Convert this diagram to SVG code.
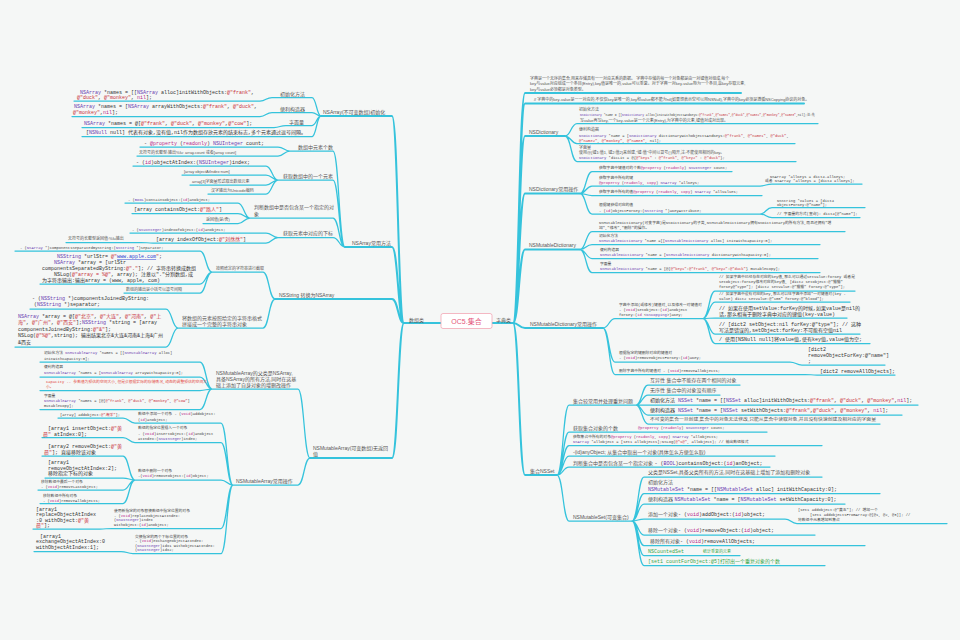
<svg xmlns="http://www.w3.org/2000/svg" width="960" height="640" viewBox="0 0 960 640">
<style>
.e{fill:none;stroke:#35c3dc;stroke-width:1.25;stroke-linecap:round}
.tr{stroke-width:2}
text{font-family:"Liberation Sans","Noto Sans CJK SC",sans-serif;fill:#555}
.l{font-size:5px}
.s{font-size:4px}
.m{font-family:"Liberation Mono","Noto Sans CJK SC",monospace;font-size:5px;fill:#333}
.ms{font-family:"Liberation Mono","Noto Sans CJK SC",monospace;font-size:3.8px;fill:#444}
.xs{font-family:"Liberation Mono","Noto Sans CJK SC",monospace;font-size:3.05px;fill:#444}
.k{fill:#6a3bb0}
.q{fill:#c8323c}
.w{fill:#b52a8c}
.red{fill:#e3493f}
.gr{fill:#3aa84b}
.ctr{font-size:7px;fill:#e4577a}
</style>
<rect width="960" height="640" fill="#f5f7f6"/>
<g id="connectors">
<path class="e tr" d="M441,323 H404 M404,323 C398,323 398,116 392,116 H321 M404,323 C398,323 398,247 392,247 H345 M404,323 C398,323 398,299 392,299 H275 M404,323 C398,323 398,458 392,458 H310"/>
<path class="e" d="M321,116 C316.5,116 316.5,97.5 312,97.5 H272 M321,116 C316.5,116 316.5,112.5 312,112.5 H272 M321,116 C316.5,116 316.5,125.5 312,125.5 H286 M321,116 C316.5,116 316.5,136.5 312,136.5 H82 M272,97.5 C266,97.5 266,101 260,101 H74 M272,112.5 C266,112.5 266,116.5 260,116.5 H72 M286,125.5 C280,125.5 280,127.5 274,127.5 H82"/>
<path class="e" d="M345,247 C339,247 339,151 333,151 H290 M345,247 C339,247 339,180 333,180 H278 M345,247 C339,247 339,218 333,218 H250 M345,247 C339,247 339,237.5 333,237.5 H278 M290,151 C284,151 284,147 278,147 H140 M290,151 C284,151 284,156 278,156 H137 M278,180 C272,180 272,166 266,166 H133 M278,180 C272,180 272,175 266,175 H182 M278,180 C272,180 272,185 266,185 H190 M278,180 C272,180 272,194 266,194 H208 M250,218 C244,218 244,203 238,203 H125 M250,218 C244,218 244,213.5 238,213.5 H132 M250,218 C244,218 244,223.5 238,223.5 H203 M278,237.5 C272,237.5 272,233 266,233 H130 M278,237.5 C272,237.5 272,243 266,243 H153 M153,243 C147,243 147,242.5 141,242.5 H66"/>
<path class="e" d="M275,299 C269,299 269,272 263,272 H212 M275,299 C269,299 269,328 263,328 H178 M212,272 C206,272 206,251 200,251 H15 M212,272 C206,272 206,284 200,284 H40 M212,272 C206,272 206,293 200,293 H124 M178,328 C172,328 172,309 166,309 H30 M178,328 C172,328 172,347 166,347 H15"/>
<path class="e" d="M310,458 C304,458 304,389 298,389 H212 M310,458 C304,458 304,485 298,485 H233 M212,389 C206,389 206,362 200,362 H40 M212,389 C206,389 206,377 200,377 H40 M212,389 C206,389 206,390.5 200,390.5 H40 M212,389 C206,389 206,409.5 200,409.5 H40 M233,485 C227,485 227,423 221,423 H135 M233,485 C227,485 227,442.5 221,442.5 H135 M233,485 C227,485 227,480 221,480 H135 M233,485 C227,485 227,528.5 221,528.5 H112 M233,485 C227,485 227,553.5 221,553.5 H133 M135,423 C129,423 129,418 123,418 H58 M135,442.5 C129,442.5 129,437.5 123,437.5 H42 M135,480 C129,480 129,456 123,456 H42 M135,480 C129,480 129,478 123,478 H45 M135,480 C129,480 129,490 123,490 H38 M135,480 C129,480 129,503.5 123,503.5 H40 M112,528.5 C106,528.5 106,529 100,529 H33 M133,553.5 C127,553.5 127,551.5 121,551.5 H34"/>
<path class="e tr" d="M492,323 H513 M513,323 C519,323 519,93 525,93 H741 M513,323 C519,323 519,103.5 525,103.5 H804 M513,323 C519,323 519,136 525,136 H565 M513,323 C519,323 519,193.5 525,193.5 H580 M513,323 C519,323 519,249.5 525,249.5 H580 M513,323 C519,323 519,328 525,328 H603 M513,323 C519,323 519,475 525,475 H557"/>
<path class="e" d="M565,136 C571,136 571,123.5 577,123.5 H818 M565,136 C571,136 571,143.5 577,143.5 H795 M565,136 C571,136 571,161.5 577,161.5 H796 M580,193.5 C586,193.5 586,171.5 592,171.5 H732 M580,193.5 C586,193.5 586,186 592,186 H760 M580,193.5 C586,193.5 586,195.5 592,195.5 H762 M580,193.5 C586,193.5 586,214 592,214 H760 M760,186 C766,186 766,184 772,184 H862 M760,214 C766,214 766,207.5 772,207.5 H865 M760,214 C766,214 766,217.5 772,217.5 H860"/>
<path class="e" d="M580,249.5 C586,249.5 586,231.5 592,231.5 H845 M580,249.5 C586,249.5 586,244.5 592,244.5 H820 M580,249.5 C586,249.5 586,258.5 592,258.5 H818 M580,249.5 C586,249.5 586,272.5 592,272.5 H820"/>
<path class="e" d="M603,328 C609,328 609,318.5 615,318.5 H703 M603,328 C609,328 609,362 615,362 H790 M603,328 C609,328 609,374.5 615,374.5 H805 M703,318.5 C709,318.5 709,291 715,291 H855 M703,318.5 C709,318.5 709,302 715,302 H850 M703,318.5 C709,318.5 709,318 715,318 H847 M703,318.5 C709,318.5 709,334 715,334 H860 M703,318.5 C709,318.5 709,343.5 715,343.5 H870 M790,362 C796,362 796,365 802,365 H885 M805,374.5 C811,374.5 811,375 817,375 H895"/>
<path class="e" d="M557,475 C563,475 563,405 569,405 H636 M557,475 C563,475 563,432 569,432 H767 M557,475 C563,475 563,445.5 569,445.5 H822 M557,475 C563,475 563,456 569,456 H775 M557,475 C563,475 563,467 569,467 H770 M557,475 C563,475 563,521 569,521 H632 M636,405 C642,405 642,385 648,385 H740 M636,405 C642,405 642,395 648,395 H720 M636,405 C642,405 642,405 648,405 H918 M636,405 C642,405 642,415 648,415 H902 M636,405 C642,405 642,424 648,424 H880"/>
<path class="e" d="M632,521 C638,521 638,477 644,477 H822 M632,521 C638,521 638,493.5 644,493.5 H880 M632,521 C638,521 638,504 644,504 H845 M632,521 C638,521 638,519 644,519 H785 M632,521 C638,521 638,535 644,535 H815 M632,521 C638,521 638,545.5 644,545.5 H865 M632,521 C638,521 638,555.5 644,555.5 H740 M632,521 C638,521 638,565.5 644,565.5 H825 M785,519 C791,519 791,523.5 797,523.5 H947"/>
</g>

<g id="root">
<rect x="441" y="313.5" width="51" height="15" rx="2" fill="#ffffff" stroke="#f2a7b5" stroke-width="0.8"/>
<text class="ctr" x="466.5" y="323.5" text-anchor="middle">OC5.集合</text>
</g>
<g id="n-arr"><text class="l" x="409" y="321.5">数组类</text></g>
<g id="n-dict"><text class="l" x="496" y="321.5">字典类</text></g>

<!-- LEFT -->
<g id="n-a"><text class="l" x="323" y="114">NSArray(不可变数组)初始化</text></g>
<g id="n-a1"><text class="l" x="280" y="95.5">初始化方法</text></g>
<g id="n-a1a"><text class="m" x="80" y="93.5"><tspan class="k">NSArray</tspan> *names = [[<tspan class="k">NSArray</tspan> alloc]initWithObjects:<tspan class="q">@"frank"</tspan>,</text><text class="m" x="77" y="99"><tspan class="q">@"duck"</tspan>, <tspan class="q">@"monkey"</tspan>, <tspan class="w">nil</tspan>];</text></g>
<g id="n-a2"><text class="l" x="280" y="110.5">便利构造器</text></g>
<g id="n-a2a"><text class="m" x="74" y="108"><tspan class="k">NSArray</tspan> *names = [<tspan class="k">NSArray</tspan> arrayWithObjects:<tspan class="q">@"frank"</tspan>, <tspan class="q">@"duck"</tspan>,</text><text class="m" x="73" y="113.5"><tspan class="q">@"monkey"</tspan>,<tspan class="w">nil</tspan>];</text></g>
<g id="n-a3"><text class="l" x="289" y="123.5">字面量</text></g>
<g id="n-a3a"><text class="m" x="84" y="124.5"><tspan class="k">NSArray</tspan> *names = @[<tspan class="q">@"frank"</tspan>, <tspan class="q">@"duck"</tspan>, <tspan class="q">@"monkey"</tspan>,<tspan class="q">@"cow"</tspan>];</text></g>
<g id="n-a4"><text class="m" x="86" y="134">[<tspan class="k">NSNull</tspan> null] 代表有对象,没有值,nil作为数组存放元素的结束标志,多个元素通过逗号间隔。</text></g>

<g id="n-b"><text class="l" x="352" y="245">NSArray常用方法</text></g>
<g id="n-b1"><text class="l" x="298" y="149">数组中元素个数</text></g>
<g id="n-b1a"><text class="m" x="144" y="145">- <tspan class="w">@property</tspan> (<tspan class="w">readonly</tspan>) <tspan class="k">NSUInteger</tspan> count;</text></g>
<g id="n-b1b"><text class="s" x="139" y="154">无符号的长整型:输出%lu:   array.count 或者[array count]</text></g>
<g id="n-b2"><text class="l" x="283" y="178">获取数组中的一个元素</text></g>
<g id="n-b2a"><text class="m" x="136" y="164">- (<tspan class="w">id</tspan>)objectAtIndex:(<tspan class="k">NSUInteger</tspan>)index;</text></g>
<g id="n-b2b"><text class="s" x="184" y="173">[array objectAtIndex:num]</text></g>
<g id="n-b2c"><text class="s" x="192" y="183">array[3]字面量形式取出数组元素</text></g>
<g id="n-b2d"><text class="s" x="211" y="192">汉字输出为Unicode编码</text></g>
<g id="n-b3"><text class="l" x="254" y="209">判断数组中是否包含某一个指定的对</text><text class="l" x="254" y="215.5">象</text></g>
<g id="n-b3a"><text class="ms" x="128" y="200.5">- (<tspan class="k">BOOL</tspan>)containsObject:(<tspan class="w">id</tspan>)anObject;</text></g>
<g id="n-b3b"><text class="m" x="134" y="211">[array containsObject:<tspan class="q">@"路人"</tspan>]</text></g>
<g id="n-b3c"><text class="s" x="206" y="221">返回值(是/否)</text></g>
<g id="n-b4"><text class="l" x="283" y="235">获取元素中对应的下标</text></g>
<g id="n-b4a"><text class="ms" x="132" y="230.5">- (<tspan class="k">NSUInteger</tspan>)indexOfObject:(<tspan class="w">id</tspan>)anObject;</text></g>
<g id="n-b4b"><text class="m" x="156" y="240.5">[array indexOfObject:<tspan class="q">@"刘然然"</tspan>]</text></g>
<g id="n-b4b1"><text class="s" x="68" y="239.5">无符号的长整型返回值:%lu输出</text></g>

<g id="n-c"><text class="l" x="279" y="297">NSString 转换为NSArray</text></g>
<g id="n-c1"><text class="s" x="216" y="270">按照给定的字符串进行截取</text></g>
<g id="n-c1a"><text class="ms" x="20" y="248.5">- (<tspan class="k">NSArray</tspan> *)componentsSeparatedByString:(<tspan class="k">NSString</tspan> *)separator;</text></g>
<g id="n-c1b">
<text class="m" x="57" y="258"><tspan class="k">NSString</tspan> *urlStr= <tspan class="q">@"</tspan><tspan fill="#2a3fd0" text-decoration="underline">www.apple.com</tspan><tspan class="q">"</tspan>;</text>
<text class="m" x="54" y="264"><tspan class="k">NSArray</tspan> *array = [urlStr</text>
<text class="m" x="42" y="270">componentsSeparatedByString:<tspan class="q">@"."</tspan>];   // 字符串转换成数组</text>
<text class="m" x="54" y="276">NSLog(<tspan class="q">@"array = %@"</tspan>, array);  注意以"."分割数组,成</text>
<text class="m" x="42" y="282">为字符串输出:输出array = (www, apple, com)</text>
</g>
<g id="n-c1c"><text class="s" x="126" y="291">数组的输出是小括号以逗号间隔</text></g>
<g id="n-c2"><text class="l" x="182" y="319.5">将数组的元素按照给定的字符串格式</text><text class="l" x="182" y="325.5">拼接成一个完整的字符串对象</text></g>
<g id="n-c2a"><text class="m" x="32" y="300">- (<tspan class="k">NSString</tspan> *)componentsJoinedByString:</text><text class="m" x="34" y="306">(<tspan class="k">NSString</tspan> *)separator;</text></g>
<g id="n-c2b">
<text class="m" x="18" y="317.5"><tspan class="k">NSArray</tspan> *array = @[<tspan class="q">@"北京"</tspan>, <tspan class="q">@"大连"</tspan>, <tspan class="q">@"河南"</tspan>, <tspan class="q">@"上</tspan></text>
<text class="m" x="18" y="324"><tspan class="q">海"</tspan>, <tspan class="q">@"广州"</tspan>, <tspan class="q">@"西安"</tspan>];<tspan class="k">NSString</tspan> *string = [array</text>
<text class="m" x="18" y="330.5">componentsJoinedByString:<tspan class="q">@"&amp;"</tspan>];</text>
<text class="m" x="18" y="337">NSLog(<tspan class="q">@"%@"</tspan>,string); 输出结果北京&amp;大连&amp;河南&amp;上海&amp;广州</text>
<text class="m" x="18" y="343.5">&amp;西安</text>
</g>

<g id="n-d"><text class="l" x="313" y="450">NSMutableArray(可变数组)无返回</text><text class="l" x="313" y="456">值</text></g>
<g id="n-d1"><text class="l" x="216" y="375">NSMutableArray的父类是NSArray,</text><text class="l" x="216" y="381">具备NSArray的所有方法,同时在这基</text><text class="l" x="216" y="387">础上添加了自身对象的增删改操作</text></g>
<g id="n-d1a"><text class="ms" x="44" y="354">初始化方法 <tspan class="k">NSMutableArray</tspan> *names = [[<tspan class="k">NSMutableArray</tspan> alloc]</text><text class="ms" x="44" y="359.5">initWithCapacity:0];</text></g>
<g id="n-d1b"><text class="ms" x="44" y="368">便利构造器</text><text class="ms" x="44" y="373.5"><tspan class="k">NSMutableArray</tspan> *names = [<tspan class="k">NSMutableArray</tspan> arrayWithCapacity:0];</text></g>
<g id="n-d1c"><text class="ms red" x="46" y="382.5">Capacity -- 参数值为预估的空间大小,但是会根据实际的存储情况,动态的调整预估的空间大</text><text class="ms red" x="46" y="388">小。</text></g>
<g id="n-d1d"><text class="ms" x="44" y="396.5">字面量</text><text class="ms" x="44" y="402"><tspan class="k">NSMutableArray</tspan> *names = [@[<tspan class="q">@"frank"</tspan>, <tspan class="q">@"duck"</tspan>, <tspan class="q">@"monkey"</tspan>, <tspan class="q">@"cow"</tspan>]</text><text class="ms" x="44" y="407">mutableCopy];</text></g>
<g id="n-d2"><text class="l" x="236" y="483">NSMutableArray常用操作</text></g>
<g id="n-d2a"><text class="ms" x="138" y="415">数组中添加一个对象 - (<tspan class="w">void</tspan>)addObject:</text><text class="ms" x="138" y="420.5">(<tspan class="w">id</tspan>)anObject;</text></g>
<g id="n-d2a1"><text class="ms" x="60" y="415.5">[array] addObject:<tspan class="q">@"海洋"</tspan>];</text></g>
<g id="n-d2b"><text class="ms" x="138" y="429">数组的指定位置插入一个对象</text><text class="ms" x="138" y="434.5">- (<tspan class="w">void</tspan>)insertObject:(<tspan class="w">id</tspan>)anObject</text><text class="ms" x="138" y="439.5">atIndex:(<tspan class="k">NSUInteger</tspan>)index;</text></g>
<g id="n-d2b1"><text class="m" x="48" y="429.5">[array1 insertObject:<tspan class="q">@"黄</tspan></text><text class="m" x="43" y="435.5"><tspan class="q">晨"</tspan> atIndex:0];</text></g>
<g id="n-d2c"><text class="ms" x="138" y="472">数组中删除一个对象</text><text class="ms" x="138" y="477">-(<tspan class="w">void</tspan>)removeObject:(<tspan class="w">id</tspan>)object;</text></g>
<g id="n-d2c1"><text class="m" x="48" y="447.5">[array2 removeObject:<tspan class="q">@"黄</tspan></text><text class="m" x="44" y="453.5"><tspan class="q">晨"</tspan>]; 直接移除该对象</text></g>
<g id="n-d2c2"><text class="m" x="48" y="464">[array1</text><text class="m" x="48" y="469.5">removeObjectAtIndex:2];</text><text class="m" x="48" y="475">移除指定下标的对象</text></g>
<g id="n-d2c3"><text class="ms" x="41" y="483">移除数组中最后一个对象</text><text class="ms" x="41" y="488">- (<tspan class="w">void</tspan>)removeLastObject;</text></g>
<g id="n-d2c4"><text class="ms" x="43" y="496.5">移除数组中所有对象</text><text class="ms" x="43" y="501.5">- (<tspan class="w">void</tspan>)removeAllObjects;</text></g>
<g id="n-d2d"><text class="ms" x="114" y="512">使用新指定的对象替换数组中指定位置的对象</text><text class="ms" x="114" y="516.5"> - (<tspan class="w">void</tspan>)replaceObjectAtIndex:</text><text class="ms" x="114" y="521">(<tspan class="k">NSUInteger</tspan>)index</text><text class="ms" x="114" y="525.5">withObject:(<tspan class="w">id</tspan>)anObject;</text></g>
<g id="n-d2d1"><text class="m" x="36" y="510.5">[array1</text><text class="m" x="36" y="516">replaceObjectAtIndex</text><text class="m" x="36" y="521.5">:0 withObject:<tspan class="q">@"黄</tspan></text><text class="m" x="36" y="527"><tspan class="q">晨"</tspan>];</text></g>
<g id="n-d2e"><text class="ms" x="135" y="537.5">交换指定的两个下标位置的对象</text><text class="ms" x="135" y="542"> - (<tspan class="w">void</tspan>)exchangeObjectAtIndex:</text><text class="ms" x="135" y="546.5">(<tspan class="k">NSUInteger</tspan>)idx1 withObjectAtIndex:</text><text class="ms" x="135" y="551">(<tspan class="k">NSUInteger</tspan>)idx2;</text></g>
<g id="n-d2e1"><text class="m" x="40" y="537.5">[array1</text><text class="m" x="36" y="543">exchangeObjectAtIndex:0</text><text class="m" x="36" y="548.5">withObjectAtIndex:1];</text></g>

<!-- RIGHT -->
<g id="n-r0a"><text class="s" x="530" y="79.5">字典是一个无序的集合,用来存储具有一一对应关系的数据。 字典中存储的每一个对象都是由一对键值对组成,每个</text><text class="s" x="530" y="85">key与value对应组成一个条目(Entry),key值是唯一的,value可以重复。对于字典一对key-value称为一个条目,靠key存取元素,</text><text class="s" x="530" y="90.5">key与value必须都是对象类型。</text></g>
<g id="n-r0b"><text class="s" x="534" y="101">// 字典中的key-value是一一对应的,不仅仅key是唯一的,key和value都不能为nil(如果想表示空可以用NSNull),字典中的key必须是遵循NSCopying协议的对象。</text></g>
<g id="n-r1"><text class="l" x="529" y="134">NSDictionary</text></g>
<g id="n-r1a"><text class="s" x="579" y="110.5">初始化方法</text><text class="xs" x="580" y="115.8"><tspan class="k">NSDictionary</tspan> *name = [[<tspan class="k">NSDictionary</tspan> alloc]initWithObjectsAndKeys:<tspan class="q">@"frank"</tspan>,<tspan class="q">@"name1"</tspan>,<tspan class="q">@"duck"</tspan>,<tspan class="q">@"name2"</tspan>,<tspan class="q">@"monkey"</tspan>,<tspan class="q">@"name3"</tspan>,nil];注:先</text><text class="s" x="580" y="121.5">写value再写key,一个key-value是一个元素(Entry),为字典中的元素,键值对成对出现。</text></g>
<g id="n-r1b"><text class="s" x="579" y="131">便利构造器</text><text class="ms" x="579" y="136.5"><tspan class="k">NSDictionary</tspan> *name = [<tspan class="k">NSDictionary</tspan> dictionaryWithObjectsAndKeys:<tspan class="q">@"frank"</tspan>, <tspan class="q">@"name1"</tspan>, <tspan class="q">@"duck"</tspan>,</text><text class="ms" x="579" y="141.5"><tspan class="q">@"name2"</tspan>, <tspan class="q">@"monkey"</tspan>, <tspan class="q">@"name3"</tspan>, nil];</text></g>
<g id="n-r1c"><text class="s" x="579" y="148.5">字面量</text><text class="s" x="579" y="153.5">使用@{键1:值1, 键2:值2}来创建,"键:值"中间以冒号(:)隔开,注:不能使用相同的key。</text><text class="ms" x="579" y="159"><tspan class="k">NSDictionary</tspan> *dicLit = @{<tspan class="q">@"key1"</tspan> : <tspan class="q">@"frank"</tspan>, <tspan class="q">@"key2"</tspan> : <tspan class="q">@"duck"</tspan>};</text></g>
<g id="n-r2"><text class="l" x="529" y="191">NSDictionary常用操作</text></g>
<g id="n-r2a"><text class="ms" x="599" y="169">获取字典中键值对的个数<tspan class="w">@property</tspan> (<tspan class="w">readonly</tspan>) <tspan class="k">NSUInteger</tspan> count;</text></g>
<g id="n-r2b"><text class="ms" x="599" y="178.5">获取字典中所有的键</text><text class="ms" x="599" y="183.5"><tspan class="w">@property</tspan> (<tspan class="w">readonly</tspan>, <tspan class="w">copy</tspan>) <tspan class="k">NSArray</tspan> *allKeys;</text></g>
<g id="n-r2b1"><text class="ms" x="770" y="177.5">NSArray *allKeys = dict4.allKeys;</text><text class="ms" x="765" y="182">或者 NSArray *allKeys = [dict4 allKeys];</text></g>
<g id="n-r2c"><text class="ms" x="599" y="193">获取字典中所有的值<tspan class="w">@property</tspan> (<tspan class="w">readonly</tspan>, <tspan class="w">copy</tspan>) <tspan class="k">NSArray</tspan> *allValues;</text></g>
<g id="n-r2d"><text class="ms" x="599" y="206">根据键获得对应的值</text><text class="ms" x="599" y="211.5"> - (<tspan class="w">id</tspan>)objectForKey:(<tspan class="k">NSString</tspan> *)aKeyAttribute;</text></g>
<g id="n-r2d1"><text class="ms" x="777" y="201.5">NSString *value1 = [dict4</text><text class="ms" x="777" y="206">objectForKey:@"name"];</text></g>
<g id="n-r2d2"><text class="ms" x="777" y="215">// 字面量的方式(查询): dict4[@"name"];</text></g>
<g id="n-r3"><text class="l" x="529" y="247">NSMutableDictionary</text></g>
<g id="n-r3a"><text class="ms" x="599" y="223.5">NSMutableDictionary(可变字典)是NSDictionary的子类,NSMutableDictionary拥有NSDictionary的所有方法,而且还拥有"增</text><text class="ms" x="599" y="229">加","修改","删除"的操作。</text></g>
<g id="n-r3b"><text class="ms" x="599" y="236.5">初始化方法</text><text class="ms" x="599" y="242"><tspan class="k">NSMutableDictionary</tspan> *name =[[<tspan class="k">NSMutableDictionary</tspan> alloc] initWithCapacity:0];</text></g>
<g id="n-r3c"><text class="ms" x="600" y="251">便利构造器</text><text class="ms" x="600" y="256"><tspan class="k">NSMutableDictionary</tspan> *name = [<tspan class="k">NSMutableDictionary</tspan> dictionaryWithCapacity:0];</text></g>
<g id="n-r3d"><text class="ms" x="600" y="265">字面量</text><text class="ms" x="600" y="270"><tspan class="k">NSMutableDictionary</tspan> *name = [@{<tspan class="q">@"key1"</tspan>:<tspan class="q">@"frank"</tspan>, <tspan class="q">@"key2"</tspan>:<tspan class="q">@"duck"</tspan>} mutableCopy];</text></g>
<g id="n-r4"><text class="l" x="530" y="326">NSMutableDictionary常用操作</text></g>
<g id="n-r4a"><text class="ms" x="619" y="305.5">字典中添加(或修改)键值对,以及修改一对键值对</text><text class="ms" x="619" y="310.5"> - (<tspan class="w">void</tspan>)setObject:(<tspan class="w">id</tspan>)anObject</text><text class="ms" x="619" y="315.5">forKey:(<tspan class="w">id</tspan> &lt;<tspan class="k">NSCopying</tspan>&gt;)aKey;</text></g>
<g id="n-r4a1"><text class="ms" x="719" y="278">// 如果字典中已经存在对应的key值,那么可以通过setValue:forKey 或者是</text><text class="ms" x="719" y="283">setObject:forKey修改对应的key值, [dict2 setObject:@"猫猫"</text><text class="ms" x="719" y="288">forKey@"type"]; [dict2 setValue:@"猫猫" forKey:@"type"];</text></g>
<g id="n-r4a2"><text class="ms" x="719" y="294.5">// 如果字典中没有对应的key,那么可以往字典中添加"一对键值对(key -</text><text class="ms" x="719" y="299.5">value) dict2 setValue:@"100" forKey:@"blood"];</text></g>
<g id="n-r4a3"><text class="m" x="719" y="309.5">// 如果在使用setValue:forKey的时候,如果value是nil的</text><text class="m" x="719" y="315.5">话,那么相当于删除字典中对应的键值(key-value)</text></g>
<g id="n-r4a4"><text class="m" x="719" y="325.5">// [dict2 setObject:nil forKey:@"type"]; // 这种</text><text class="m" x="719" y="331.5">写法是错误的,setObject:forKey:不可能有空值nil</text></g>
<g id="n-r4a5"><text class="m" x="719" y="341">/ 使用[NSNull null]将value值,使有key值,value值为空;</text></g>
<g id="n-r4b"><text class="ms" x="619" y="354">根据指定的键删除对应的键值对</text><text class="ms" x="619" y="359">  - (<tspan class="w">void</tspan>)removeObjectForKey:(<tspan class="w">id</tspan>)aKey;</text></g>
<g id="n-r4b1"><text class="m" x="808" y="350.5">[dict2</text><text class="m" x="808" y="356.5">removeObjectForKey:@"name"]</text><text class="m" x="808" y="362.5">;</text></g>
<g id="n-r4c"><text class="ms" x="619" y="371.5">删除字典中所有的键值对  - (<tspan class="w">void</tspan>)removeAllObjects;</text></g>
<g id="n-r4c1"><text class="m" x="820" y="372.5">[dict2 removeAllObjects];</text></g>
<g id="n-r5"><text class="l" x="530" y="472.5">集合NSSet</text></g>
<g id="n-r5a"><text class="l" x="573" y="402.5">集合较常用并处理重复问题</text></g>
<g id="n-r5a1"><text class="l" x="650" y="382">互异性 集合中不能存在两个相同的对象</text></g>
<g id="n-r5a2"><text class="l" x="650" y="392">无序性 集合中的对象没有顺序</text></g>
<g id="n-r5a3"><text class="m" x="650" y="402">初始化方法 <tspan class="k">NSSet</tspan> *name = [[<tspan class="k">NSSet</tspan> alloc]initWithObjects:<tspan class="q">@"frank"</tspan>, <tspan class="q">@"duck"</tspan>, <tspan class="q">@"monkey"</tspan>,<tspan class="w">nil</tspan>];</text></g>
<g id="n-r5a4"><text class="m" x="650" y="412">便利构造器 <tspan class="k">NSSet</tspan> *name = [<tspan class="k">NSSet</tspan> setWithObjects:<tspan class="q">@"frank"</tspan>,<tspan class="q">@"duck"</tspan>, <tspan class="q">@"monkey"</tspan>, <tspan class="w">nil</tspan>];</text></g>
<g id="n-r5a5"><text class="s" x="650" y="421" textLength="226" lengthAdjust="spacingAndGlyphs">不可变的集合一旦创建,集合中的对象无法修改,只能从集合中读取对象,并且没有快速创建及相对应的字面量</text></g>
<g id="n-r5b"><text class="l" x="573" y="429.5">获取集合对象的个数</text><text class="ms" x="638" y="429"><tspan class="w">@property</tspan> (<tspan class="w">readonly</tspan>) <tspan class="k">NSUInteger</tspan> count;</text></g>
<g id="n-r5c"><text class="ms" x="573" y="438">获取集合中所有的对象<tspan class="w">@property</tspan> (<tspan class="w">readonly</tspan>, <tspan class="w">copy</tspan>) <tspan class="k">NSArray</tspan> *allObjects;</text><text class="ms" x="573" y="443"><tspan class="k">NSArray</tspan> *allObject = [set1 allObjects];NSLog(<tspan class="q">@"%@"</tspan>, allObject);   // 输出数组格式</text></g>
<g id="n-r5d"><text class="l" x="573" y="453.5">-(id)anyObject; 从集合中取出一个对象(具体怎么方便怎么取)</text></g>
<g id="n-r5e"><text class="l" x="573" y="464.5">判断集合中是否包含某一个指定对象 <tspan class="m"> - (<tspan class="k">BOOL</tspan>)containsObject:(<tspan class="w">id</tspan>)anObject;</tspan></text></g>
<g id="n-r5f"><text class="l" x="573" y="518.5">NSMutableSet(可变集合)</text></g>
<g id="n-r5f1"><text class="l" x="648" y="474">父类是NSSet,具备父类所有的方法,同时在这基础上增加了添加和删除对象</text></g>
<g id="n-r5f2"><text class="l" x="648" y="484">初始化方法</text><text class="m" x="648" y="490.5"><tspan class="k">NSMutableSet</tspan> *name = [[<tspan class="k">NSMutableSet</tspan> alloc] initWithCapacity:0];</text></g>
<g id="n-r5f3"><text class="l" x="648" y="501">便利构造器 <tspan class="m"><tspan class="k">NSMutableSet</tspan> *name = [<tspan class="k">NSMutableSet</tspan> setWithCapacity:0];</tspan></text></g>
<g id="n-r5f4"><text class="l" x="648" y="516">添加一个对象<tspan class="m">- (<tspan class="w">void</tspan>)addObject:(<tspan class="w">id</tspan>)object;</tspan></text></g>
<g id="n-r5f4a"><text class="ms" x="798" y="510.5">[set1 addObject:@"黄五"];   // 增加一个</text><text class="ms" x="810" y="516">[set1 addObjectsFromArray:@[@1, @2, @3]]; //</text><text class="ms" x="798" y="521">将数组中元素增加到集合</text></g>
<g id="n-r5f5"><text class="l" x="648" y="532">移除一个对象<tspan class="m">- (<tspan class="w">void</tspan>)removeObject:(<tspan class="w">id</tspan>)object;</tspan></text></g>
<g id="n-r5f6"><text class="l" x="650" y="542.5">移除所有对象<tspan class="m">- (<tspan class="w">void</tspan>)removeAllObjects;</tspan></text></g>
<g id="n-r5f7"><text class="m gr" x="648" y="553">NSCountedSet</text><text class="s gr" x="703" y="553">统计重复的元素</text></g>
<g id="n-r5f8"><text class="m gr" x="648" y="563">[set1 countForObject:@5]打印出一个重复对象的个数</text></g>
</svg>
